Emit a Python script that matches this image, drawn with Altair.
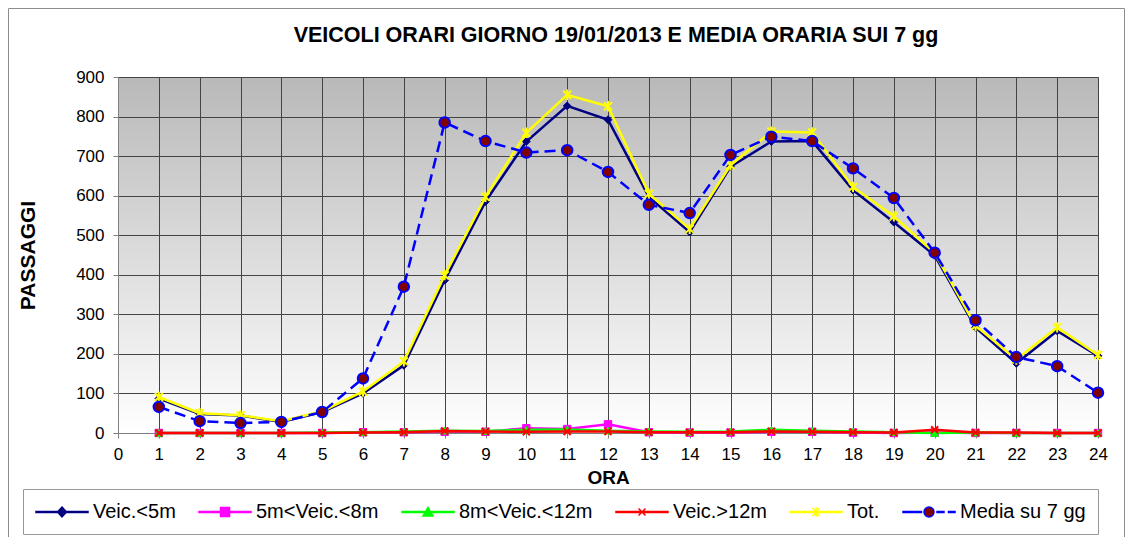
import altair as alt
import pandas as pd

# ---------------- data ----------------
ore = list(range(1, 25))
serie = ["Veic.<5m", "5m<Veic.<8m", "8m<Veic.<12m", "Veic.>12m", "Tot.", "Media su 7 gg"]

veic_5 = [87, 48, 44, 28, 53, 100, 171, 386, 585, 737, 827, 792,
          597, 508, 673, 737, 738, 614, 533, 449, 267, 176, 258, 195]
veic_5_8 = [0, 0, 0, 0, 0, 2, 2, 3, 3, 12, 10, 22,
            2, 1, 1, 3, 3, 1, 0, 1, 0, 0, 0, 0]
veic_8_12 = [0, 0, 0, 0, 1, 2, 4, 6, 5, 8, 9, 6,
             4, 3, 4, 8, 6, 4, 2, 0, 1, 0, 0, 0]
veic_12 = [0, 0, 0, 0, 0, 1, 2, 5, 4, 3, 4, 4,
           2, 2, 2, 4, 3, 2, 1, 8, 1, 1, 0, 0]
tot = [91, 50, 45, 30, 55, 105, 181, 399, 597, 759, 855, 826,
       605, 516, 677, 762, 760, 622, 548, 455, 271, 186, 267, 197]
media = [66, 30, 25, 28, 53, 138, 370, 785, 738, 709, 715, 660,
         577, 556, 703, 749, 738, 669, 594, 456, 285, 192, 169, 102]

valori = [veic_5, veic_5_8, veic_8_12, veic_12, tot, media]
x_ticks = list(range(0, 25))
y_ticks = list(range(0, 901, 100))

# ---------------- styles ----------------
colori_linea = ["#000080", "#ff00ff", "#00ff00", "#ff0000", "#ffff00", "#0000ff"]
colori_riemp = ["#000080", "#ff00ff", "#00ff00", "#ff0000", "#ffff00", "#800000"]

FONT = "Liberation Sans"
W, H = 980, 356
PAD_L, PAD_T, PAD_R, PAD_B = 110, 69, 27, 104

xenc = alt.X("ora:Q",
             scale=alt.Scale(domain=[0, 24], nice=False, zero=False),
             axis=alt.Axis(values=x_ticks, title="ORA", labelAngle=0,
                           labelPadding=8, titlePadding=6, titleFontSize=19,
                           labelFlush=False, format="d"))
yenc = alt.Y("valore:Q",
             scale=alt.Scale(domain=[0, 900], nice=False),
             axis=alt.Axis(values=y_ticks, title="PASSAGGI",
                           labelPadding=9, titlePadding=37, titleFontSize=21,
                           labelFlush=False, format="d"))

# marker styles per series (plot)
marker_specs = [
    dict(shape="diamond", size=60, filled=True, fill="#000080", stroke="#000080", strokeWidth=1),
    dict(shape="square", size=55, filled=True, fill="#ff00ff", stroke="#ff00ff", strokeWidth=1),
    dict(shape="triangle-up", size=60, filled=True, fill="#00ff00", stroke="#00ff00", strokeWidth=1),
    dict(shape="M-1,-1L1,1M-1,1L1,-1", size=50, filled=False, stroke="#ff0000", strokeWidth=2),
    dict(shape="M-1,-1L1,1M-1,1L1,-1M0,-1.3V1.3", size=64, filled=False, stroke="#ffff00", strokeWidth=2),
    dict(shape="circle", size=110, filled=True, fill="#800000", stroke="#0000ff", strokeWidth=2),
]

# legend symbol paths (line + marker), unit = 10 px
L = "M-1,-0.06H4.2V0.06H-1Z"
legend_paths = [
    L + "M1.6,-0.5L2.05,0L1.6,0.5L1.15,0Z",
    L + "M1.15,-0.45H2.05V0.45H1.15Z",
    L + "M1.6,-0.45L2.1,0.4H1.1Z",
    L + "M1.25,-0.35L1.95,0.35M1.25,0.35L1.95,-0.35",
    L + "M1.25,-0.4L1.95,0.4M1.25,0.4L1.95,-0.4M1.6,-0.5V0.5",
    "M-1,-0.06H0.85V0.06H-1Z M2.4,-0.06H3.1V0.06H2.4Z M3.55,-0.06H4.2V0.06H3.55Z "
    "M2.1,0A0.5,0.5 0 1,1 1.1,0A0.5,0.5 0 1,1 2.1,0Z",
]

layers = []

# outer frame (decoration); bottom edge falls outside the drawing
frame = alt.Chart(pd.DataFrame({"k": [0]})).mark_rect(
    filled=False, stroke="#8c8c8c", strokeWidth=1
).encode(
    x=alt.value(-PAD_L + 0.5), x2=alt.value(W + PAD_R - 0.5),
    y=alt.value(-PAD_T + 0.5), y2=alt.value(H + PAD_B + 6),
)
layers.append(frame)

frames = []
for i, nome in enumerate(serie):
    df = pd.DataFrame({"ora": ore, "valore": valori[i], "serie": nome})
    frames.append(df)
    base = alt.Chart(df).encode(x=xenc, y=yenc)
    line_kw = dict(color=colori_linea[i], strokeWidth=2.5)
    if nome == "Media su 7 gg":
        line_kw["strokeDash"] = [11, 6]
    layers.append(base.mark_line(**line_kw))
    layers.append(base.mark_point(opacity=1, **marker_specs[i]))

df_all = pd.concat(frames, ignore_index=True)

legenda = alt.Chart(df_all).transform_filter("false").mark_point(
    filled=False, strokeWidth=1.5, opacity=1
).encode(
    x=xenc, y=yenc,
    shape=alt.Shape("serie:N", scale=alt.Scale(domain=serie, range=legend_paths), title=None),
    color=alt.Color("serie:N", scale=alt.Scale(domain=serie, range=colori_linea), title=None),
    fill=alt.Fill("serie:N", scale=alt.Scale(domain=serie, range=colori_riemp), title=None),
)
layers.append(legenda)

chart = alt.layer(*layers).properties(
    width=W, height=H,
    autosize=alt.AutoSizeParams(type="none"),
    padding={"left": PAD_L, "top": PAD_T, "right": PAD_R, "bottom": PAD_B},
    title=alt.TitleParams(
        "VEICOLI ORARI GIORNO 19/01/2013 E MEDIA ORARIA SUI 7 gg",
        fontSize=21.5, font=FONT, fontWeight="bold", color="black",
        anchor="middle", offset=-38, dx=8, frame="group",
    ),
    background="white",
).configure(
    font=FONT,
).configure_view(
    fill={"expr": "{gradient: 'linear', x1: 0, y1: 0, x2: 0, y2: 1, stops: [{offset: 0, color: '#b9b9b9'}, {offset: 1, color: '#ffffff'}]}"},
    stroke="#808080", strokeWidth=1,
).configure_axis(
    labelFont=FONT, labelFontSize=17, labelColor="black",
    titleFont=FONT, titleFontWeight="bold", titleColor="black",
    gridColor="#444444", gridWidth=1, gridOpacity=1,
    domainColor="#808080", tickColor="#808080", tickSize=5,
).configure_legend(
    orient="none", legendX=-95, legendY=412, direction="horizontal", columns=6,
    symbolSize=400, symbolStrokeWidth=1.5, labelFont=FONT, labelFontSize=20,
    labelColor="black", labelOffset=36, columnPadding=20, padding=12,
    strokeColor="#999999", fillColor="white", labelLimit=400,
)

chart.save("out.html", embed_options={"renderer": "svg", "actions": False})
